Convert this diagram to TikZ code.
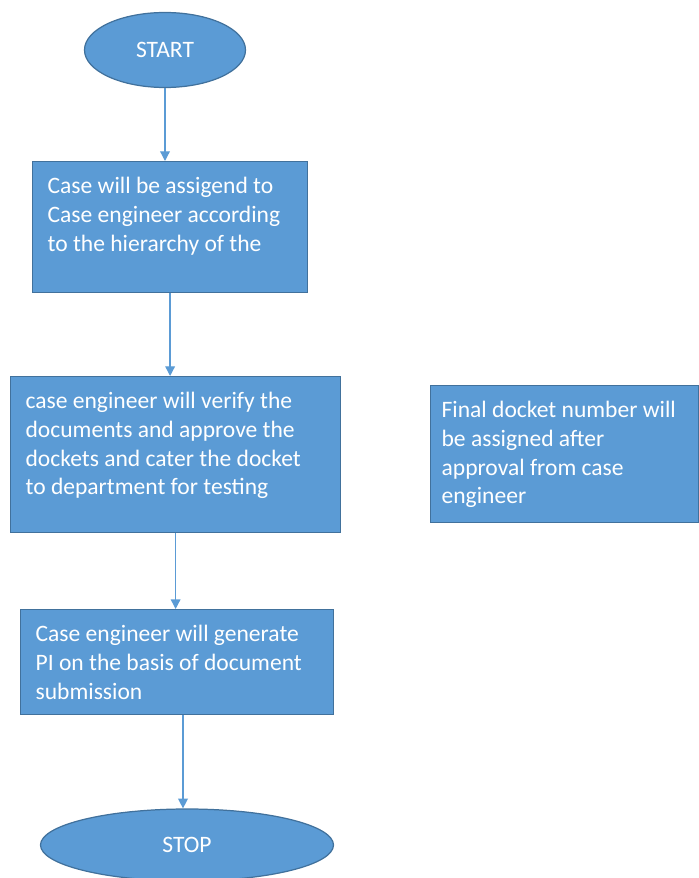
\documentclass[tikz,border=0pt]{standalone}
\usepackage{fontspec}
\setmainfont{Carlito}
\usetikzlibrary{shapes.geometric,arrows.meta}
\definecolor{boxblue}{HTML}{5B9BD5}
\definecolor{edgeblue}{HTML}{41719C}
\newcommand{\steptext}[3]{\parbox[c][#2][t]{#1}{\raggedright #3}}

\begin{document}
\begin{tikzpicture}[
		font=\fontsize{13.4}{16.3}\selectfont,
		procbox/.style={rectangle, draw=edgeblue, line width=0.7pt, fill=boxblue, text=white, anchor=north west, inner xsep=0.3cm, inner ysep=0.32cm},
		terminal/.style={ellipse, draw=edgeblue, line width=0.7pt, fill=boxblue, text=white, inner sep=0pt},
		flow/.style={draw=boxblue, line width=0.75pt, -{Triangle[length=5.5pt,width=5.5pt]}}
	]
		\useasboundingbox (0,0) rectangle (13.98,-17.56);
		% terminals
		\node[terminal, minimum width=3.22cm, minimum height=1.5cm] (start) at (3.3,-1.0) {START};
		\node[terminal, minimum width=5.86cm, minimum height=1.44cm] (stop) at (3.74,-16.9) {STOP};
		% process boxes
		\node[procbox] (assign) at (0.64,-3.22) {\steptext{4.9cm}{1.98cm}{Case will be assigend to\\ Case engineer according\\ to the hierarchy of the}};
		\node[procbox] (verify) at (0.2,-7.52) {\steptext{6.0cm}{2.48cm}{case engineer will verify the\\ documents and approve the\\ dockets and cater the docket\\ to department for testing}};
		\node[procbox] (pi) at (0.4,-12.18) {\steptext{5.66cm}{1.46cm}{Case engineer will generate\\ PI on the basis of document\\ submission}};
		\node[procbox, inner xsep=0.22cm] (docket) at (8.6,-7.7) {\steptext{4.92cm}{2.1cm}{Final docket number will\\ be assigned after\\ approval from case\\ engineer}};
		% arrows
		\draw[flow] (start.south) -- (start.south |- assign.north);
		\draw[flow] (assign.south) -- (assign.south |- verify.north);
		\draw[flow] (verify.south) -- (verify.south |- pi.north);
		\draw[flow] ([xshift=-0.08cm]stop.north |- pi.south) -- ([xshift=-0.08cm]stop.north);
	\end{tikzpicture}
\end{document}
